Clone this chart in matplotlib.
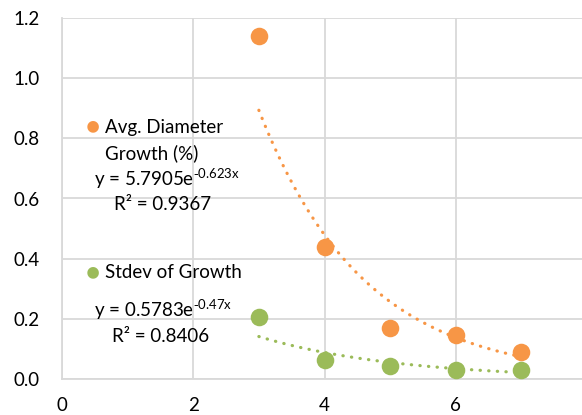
import numpy as np
import matplotlib.pyplot as plt

# data
x_vals = [3, 4, 5, 6, 7]
avg_growth = [1.14, 0.44, 0.17, 0.146, 0.09]
stdev_growth = [0.206, 0.063, 0.043, 0.03, 0.03]

# exponential trendline coefficients shown on the chart
avg_a, avg_b = 5.7905, -0.623
std_a, std_b = 0.5783, -0.47

x_ticks = [0, 2, 4, 6]
y_ticks = [0.0, 0.2, 0.4, 0.6, 0.8, 1.0, 1.2]

orange = "#F79646"
green = "#9BBB59"
grid_c = "#D9D9D9"

plt.rcParams['font.family'] = ['Lato', 'DejaVu Sans']

fig = plt.figure(figsize=(5.82, 4.15), dpi=100)
ax = fig.add_axes([62 / 582, 1 - 379 / 415, 525 / 582, 361 / 415])

ax.set_xlim(0, 8)
ax.set_ylim(0, 1.2)
ax.set_xticks(x_ticks)
ax.set_yticks(y_ticks)
ax.set_yticklabels([f"{v:.1f}" for v in y_ticks])
ax.grid(True, color=grid_c, linewidth=1.3)
ax.axvline(8, color=grid_c, linewidth=1.3, zorder=0)
ax.set_axisbelow(True)
for s in ["top", "right"]:
    ax.spines[s].set_visible(False)
for s in ["left", "bottom"]:
    ax.spines[s].set_color(grid_c)
    ax.spines[s].set_linewidth(1.3)
ax.tick_params(length=0, labelsize=13.5, colors="black")
ax.tick_params(axis="x", pad=13)
ax.tick_params(axis="y", pad=16)

# trendlines
xt = np.linspace(3, 7, 100)
ax.plot(xt, avg_a * np.exp(avg_b * xt), color=orange, lw=2.3,
        linestyle=(0, (0.1, 2.6)), dash_capstyle="round", zorder=2)
ax.plot(xt, std_a * np.exp(std_b * xt), color=green, lw=2.3,
        linestyle=(0, (0.1, 2.6)), dash_capstyle="round", zorder=2)

ax.scatter(x_vals, avg_growth, s=160, color=orange, zorder=3, linewidths=0)
ax.scatter(x_vals, stdev_growth, s=160, color=green, zorder=3, linewidths=0)

# legend-like labels
fs = 13.5
def px(x, y):
    return x / 582, 1 - y / 415

fig.text(*px(93, 127), "\u25CF", color=orange, fontsize=17, ha="center", va="center")
fig.text(*px(105, 127), "Avg. Diameter", fontsize=fs, va="center")
fig.text(*px(105, 153), "Growth (%)", fontsize=fs, va="center")
fig.text(*px(94, 179), r"y = 5.7905e$^{\mathregular{\text{-}0.623x}}$", fontsize=fs, va="center")
fig.text(*px(114, 205), "R\u00b2 = 0.9367", fontsize=fs, va="center")

fig.text(*px(93, 273), "\u25CF", color=green, fontsize=17, ha="center", va="center")
fig.text(*px(105, 273), "Stdev of Growth", fontsize=fs, va="center")
fig.text(*px(94, 310), r"y = 0.5783e$^{\mathregular{\text{-}0.47x}}$", fontsize=fs, va="center")
fig.text(*px(112, 336), "R\u00b2 = 0.8406", fontsize=fs, va="center")

plt.savefig("out.png", dpi=100)
